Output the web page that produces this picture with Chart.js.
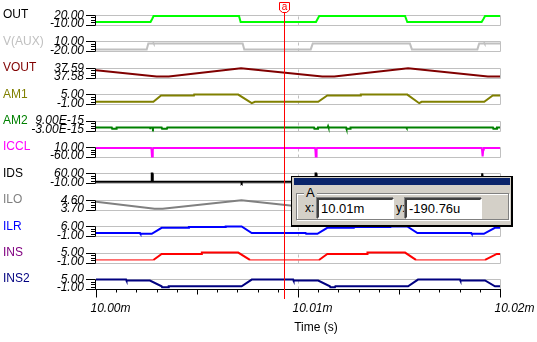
<!DOCTYPE html>
<html>
<head>
<meta charset="utf-8">
<title>Transient</title>
<script src="https://cdn.jsdelivr.net/npm/chart.js@4.4.1/dist/chart.umd.min.js"></script>
<style>
  html, body { margin: 0; padding: 0; background: #fff; }
  #wrap { position: relative; width: 537px; height: 342px; overflow: hidden; }
  #plot { position: absolute; left: 0; top: 0; }
  .dlg { position: absolute; left: 291px; top: 176px; width: 222px; height: 51px; box-sizing: border-box;
         background: #d4d0c8; border-style: solid; border-color: #000; border-width: 1px 2px 2px 1px;
         font: 13px "Liberation Sans", Arial, sans-serif; color: #000; }
  .dlg .bar { position: absolute; left: 2px; top: 1px; width: 216px; height: 7px; background: #0a246a; }
  .dlg .grp { position: absolute; left: 4px; top: 16px; width: 211px; height: 25px; border: 1px solid #808080;
              box-shadow: 1px 1px 0 #fff, inset 1px 1px 0 #fff; }
  .dlg .grp span { position: absolute; left: 7px; top: -9px; padding: 0 2px; background: #d4d0c8; line-height: 15px; }
  .dlg .lbl { position: absolute; top: 24px; line-height: 15px; font-size: 12px; }
  .dlg .box { position: absolute; top: 21px; width: 77px; height: 21px; box-sizing: border-box; background: #fff;
              border-style: solid; border-width: 2px; border-color: #404040 #fff #fff #404040;
              box-shadow: -1px -1px 0 #808080; padding-left: 2px; line-height: 17px; }
</style>
</head>
<body>
<div id="wrap">
  <canvas id="plot" width="537" height="342"></canvas>
  <div class="dlg">
    <div class="bar"></div>
    <div class="grp"><span>A</span></div>
    <div class="lbl" style="left:13px">x:</div>
    <div class="box" style="left:25px">10.01m</div>
    <div class="lbl" style="left:104px">y:</div>
    <div class="box" style="left:113px">-190.76u</div>
  </div>
</div>
<script>
// trace order, top to bottom
const traceNames  = ['OUT', 'V(AUX)', 'VOUT', 'AM1', 'AM2', 'ICCL', 'IDS', 'ILO', 'ILR', 'INS', 'INS2'];
const nameColors  = ['#000000', '#c0c0c0', '#800000', '#808000', '#008000', '#ff00ff', '#000000', '#808080', '#0000ff', '#800080', '#000080'];
const traceColors = ['#00ff00', '#c0c0c0', '#800000', '#808000', '#008000', '#ff00ff', '#000000', '#808080', '#0000ff', '#ff0000', '#000080'];
const rangeHigh   = ['20.00', '10.00', '37.59', '5.00', '9.00E-15', '10.00', '60.00', '4.60', '6.00', '5.00', '5.00'];
const rangeLow    = ['-10.00', '-20.00', '37.58', '-1.00', '-3.00E-15', '-60.00', '-10.00', '3.70', '-1.00', '-1.00', '-1.00'];
const timeLabels  = ['10.00m', '10.01m', '10.02m'];
const cursorTime  = 10.00932;

// time in ms
const outTime = [10.00000, 10.00270, 10.00278, 10.00285, 10.00708, 10.00716, 10.01089, 10.01097, 10.01105, 10.01530, 10.01541, 10.01909, 10.01918, 10.01926, 10.02000];
const outVal  = [-1, -1, 8, 17, 17, -1, -1, 8, 17, 17, -1, -1, 8, 17, 17];

const auxTime = [10.00000, 10.00251, 10.00259, 10.00282, 10.00284, 10.00286, 10.00726, 10.00734, 10.01063, 10.01073, 10.01554, 10.01564, 10.01888, 10.01897, 10.01920, 10.01922, 10.01924, 10.02000];
const auxVal  = [-14, -14, 3.5, 3.5, 5.5, 3.5, 3.5, -14, -14, 3.5, 3.5, -14, -14, 3.5, 3.5, 5.5, 3.5, 3.5];

const voutTime = [10.00000, 10.00300, 10.00360, 10.00718, 10.01120, 10.01180, 10.01545, 10.01940, 10.02000];
const voutVal  = [37.5876, 37.5813, 37.5813, 37.5896, 37.5813, 37.5813, 37.5896, 37.5813, 37.5812];

const am1Time = [10.00000, 10.00284, 10.00322, 10.00485, 10.00486, 10.00704, 10.00771, 10.00787, 10.01100, 10.01145, 10.01310, 10.01311, 10.01541, 10.01600, 10.01612, 10.01922, 10.01964, 10.02000];
const am1Val  = [0.4, 0.4, 4.2, 4.2, 4.75, 4.75, -0.4, 0.4, 0.4, 4.2, 4.2, 4.75, 4.75, -0.4, 0.4, 0.4, 4.2, 4.2];

const am2Time = [10.00000, 10.00078, 10.00080, 10.00100, 10.00102, 10.00266, 10.00268, 10.00270, 10.00280, 10.00282, 10.00284,
                 10.00325, 10.00327, 10.00351, 10.00353, 10.01079, 10.01081, 10.01097, 10.01099, 10.01147, 10.01149, 10.01151,
                 10.01238, 10.01240, 10.01258, 10.01260, 10.01535, 10.01537, 10.01539, 10.01965, 10.01967, 10.01983, 10.01985, 10.02000];
const am2Val  = [0.8e-15, 0.8e-15, -0.7e-15, -0.7e-15, 0.8e-15, 0.8e-15, -0.2e-15, 0.8e-15, 0.8e-15, -0.2e-15, 0.8e-15,
                 0.8e-15, -0.7e-15, -0.7e-15, 0.8e-15, 0.8e-15, -0.7e-15, -0.7e-15, 0.8e-15, 0.8e-15, 2.2e-15, 0.8e-15,
                 0.8e-15, -0.7e-15, -0.7e-15, 0.8e-15, 0.8e-15, -0.2e-15, 0.8e-15, 0.8e-15, -0.7e-15, -0.7e-15, 0.8e-15, 0.8e-15];

const icclTime = [10.00000, 10.00272, 10.00275, 10.00277, 10.00279, 10.00281, 10.00284, 10.01083, 10.01086, 10.01088,
                  10.01090, 10.01092, 10.01095, 10.01908, 10.01911, 10.01913, 10.01915, 10.01917, 10.01920, 10.02000];
const icclVal  = [3.4, 3.4, -8, -56, -56, -8, 3.4, 3.4, -8, -56, -56, -8, 3.4, 3.4, -8, -56, -56, -8, 3.4, 3.4];

const idsTime = [10.00000, 10.00274, 10.00276, 10.00279, 10.00281, 10.00719, 10.00721, 10.00723, 10.01085, 10.01087,
                 10.01090, 10.01092, 10.01538, 10.01540, 10.01542, 10.01910, 10.01912, 10.01915, 10.01917, 10.02000];
const idsVal  = [1, 1, 60, 60, 1, 1, -4, 1, 1, 60, 60, 1, 1, -4, 1, 1, 60, 60, 1, 1];

const iloTime = [10.00000, 10.00290, 10.00330, 10.00720, 10.01110, 10.01150, 10.01540, 10.01930, 10.01970, 10.02000];
const iloVal  = [4.42, 3.79, 3.79, 4.57, 3.79, 3.79, 4.57, 3.79, 3.79, 3.82];

const ilrTime = [10.00000, 10.00218, 10.00220, 10.00276, 10.00325, 10.00457, 10.00460, 10.00639, 10.00642, 10.00721, 10.00771, 10.01038, 10.01040,
                 10.01096, 10.01145, 10.01277, 10.01280, 10.01459, 10.01462, 10.01541, 10.01591, 10.01858, 10.01860, 10.01920, 10.01975, 10.02000];
const ilrVal  = [1.17, 1.17, 0.7, 0.7, 4.9, 4.9, 5.5, 5.5, 5.8, 5.8, 1.17, 1.17, 0.7,
                 0.7, 4.9, 4.9, 5.5, 5.5, 5.8, 5.8, 1.17, 1.17, 0.7, 0.7, 4.9, 4.9];

const insTime = [10.00000, 10.00284, 10.00325, 10.00522, 10.00524, 10.00704, 10.00762, 10.01104, 10.01145, 10.01342, 10.01344, 10.01530, 10.01584, 10.01926, 10.01984, 10.02000];
const insVal  = [0.6, 0.6, 4.2, 4.2, 5.0, 5.0, 0.6, 0.6, 4.2, 4.2, 5.0, 5.0, 0.6, 0.6, 4.2, 4.2];

const ins2Time = [10.00000, 10.00149, 10.00151, 10.00267, 10.00325, 10.00327, 10.00358, 10.00360, 10.00721, 10.00771, 10.00976, 10.00978,
                  10.01100, 10.01158, 10.01160, 10.01183, 10.01185, 10.01545, 10.01594, 10.01802, 10.01804, 10.01926, 10.01975, 10.02000];
const ins2Val  = [4.64, 4.64, 4.1, 4.1, 0.62, 0.1, 0.1, 0.62, 0.62, 4.64, 4.64, 4.1,
                  4.1, 0.62, 0.1, 0.1, 0.62, 0.62, 4.64, 4.64, 4.1, 4.1, 0.62, 0.62];

const traces = [
    [outTime, outVal], [auxTime, auxVal], [voutTime, voutVal], [am1Time, am1Val], [am2Time, am2Val], [icclTime, icclVal],
    [idsTime, idsVal], [iloTime, iloVal], [ilrTime, ilrVal], [insTime, insVal], [ins2Time, ins2Val]
];

const FONT = '"Liberation Sans", Arial, sans-serif';
Chart.defaults.font.family = FONT;

// every trace gets its own y scale over the whole plot height; the labelled
// range sits in a thin band, bands stacked at a fixed pitch
const bandPitch = 26.43;
const bandHeight = 10;
const stackHeight = (traceNames.length - 1) * bandPitch + bandHeight;

const bands = traceNames.map((_, i) => ({ lo: parseFloat(rangeLow[i]), hi: parseFloat(rangeHigh[i]) }));

const yScales = {};
bands.forEach((b, i) => {
    const upp = (b.hi - b.lo) / bandHeight;
    yScales['y' + i] = {
        type: 'linear',
        display: false,
        min: b.lo - (stackHeight - i * bandPitch - bandHeight) * upp,
        max: b.hi + i * bandPitch * upp
    };
});

const datasets = traces.map(([t, v], i) => {
    const ds = {
        label: traceNames[i],
        data: t.map((x, k) => ({ x, y: v[k] })),
        yAxisID: 'y' + i,
        borderColor: traceColors[i],
        borderWidth: 2,
        pointRadius: 0,
        tension: 0
    };
    if (traceNames[i] === 'INS') {
        // the idle level of INS is drawn thin
        ds.segment = { borderWidth: c => (c.p0.parsed.y === c.p1.parsed.y && c.p0.parsed.y < 1 ? 1 : undefined) };
    }
    return ds;
});

const crisp = v => Math.round(v) + 0.5;

const bandsPlugin = {
    id: 'bands',
    beforeDatasetsDraw(chart) {
        const { ctx, chartArea, scales } = chart;
        const xMid = crisp(scales.x.getPixelForValue(10.01));
        ctx.save();
        ctx.lineWidth = 1;
        bands.forEach((b, i) => {
            const ys = scales['y' + i];
            const top = crisp(ys.getPixelForValue(b.hi));
            const bot = crisp(ys.getPixelForValue(b.lo));
            ctx.strokeStyle = '#c0c0c0';
            ctx.setLineDash([]);
            ctx.beginPath();
            ctx.moveTo(chartArea.left, top);
            ctx.lineTo(crisp(chartArea.right), top);
            ctx.lineTo(crisp(chartArea.right), bot);
            ctx.moveTo(chartArea.left, bot);
            ctx.lineTo(crisp(chartArea.right), bot);
            ctx.stroke();
            ctx.setLineDash([3, 3]);
            ctx.beginPath();
            ctx.moveTo(xMid, top + 1);
            ctx.lineTo(xMid, bot);
            ctx.stroke();
        });
        ctx.restore();
    },
    afterDraw(chart) {
        const { ctx, chartArea, scales } = chart;
        const xs = scales.x;
        const axisX = crisp(chartArea.left - 1);
        ctx.save();
        ctx.lineWidth = 1;

        // trace names, ranges and the small per-band axes
        bands.forEach((b, i) => {
            const ys = scales['y' + i];
            const top = ys.getPixelForValue(b.hi);
            const bot = ys.getPixelForValue(b.lo);
            ctx.textBaseline = 'middle';
            ctx.textAlign = 'left';
            ctx.font = '12px ' + FONT;
            ctx.fillStyle = nameColors[i];
            ctx.fillText(traceNames[i], 3, top);
            ctx.textAlign = 'right';
            ctx.font = 'italic 12px ' + FONT;
            ctx.fillStyle = '#000';
            ctx.fillText(rangeHigh[i], 84, top + 0.5);
            ctx.fillText(rangeLow[i], 84, bot - 1);

            const t = crisp(top), bt = crisp(bot);
            ctx.strokeStyle = '#000';
            ctx.beginPath();
            ctx.moveTo(axisX, t);
            ctx.lineTo(axisX, bt);
            ctx.moveTo(86, t);
            ctx.lineTo(axisX, t);
            ctx.moveTo(86, bt);
            ctx.lineTo(axisX, bt);
            for (let k = 1; k < 4; k++) {
                const y = crisp(top + (bot - top) * k / 4);
                ctx.moveTo(91, y);
                ctx.lineTo(axisX, y);
            }
            ctx.stroke();
        });

        // time axis line, tick marks and labels
        const ay = crisp(chartArea.bottom);
        ctx.strokeStyle = '#000';
        ctx.beginPath();
        ctx.moveTo(axisX, ay);
        ctx.lineTo(crisp(chartArea.right) + 0.5, ay);
        ctx.font = 'italic 12px ' + FONT;
        ctx.textAlign = 'left';
        ctx.textBaseline = 'middle';
        ctx.fillStyle = '#000';
        xs.ticks.forEach(tk => {
            const k = Math.round((tk.value - 10) * 1000);
            const len = k % 10 === 0 ? 8 : (k % 5 === 0 ? 5 : 3);
            const x = crisp(xs.getPixelForValue(tk.value));
            ctx.moveTo(x, ay);
            ctx.lineTo(x, ay + len);
            if (k % 10 === 0) {
                ctx.fillText(timeLabels[k / 10], x - 6, 309);
            }
        });
        ctx.stroke();

        ctx.font = '12px ' + FONT;
        ctx.textAlign = 'center';
        ctx.fillText('Time (s)', 316, 328);

        // cursor "a"
        const cx = crisp(xs.getPixelForValue(cursorTime));
        ctx.strokeStyle = '#ff0000';
        ctx.beginPath();
        ctx.moveTo(cx, 12);
        ctx.lineTo(cx, 299);
        ctx.stroke();
        ctx.beginPath();
        ctx.moveTo(cx - 5, 2.5);
        ctx.lineTo(cx + 5, 2.5);
        ctx.lineTo(cx + 5, 10);
        ctx.lineTo(cx + 2, 12.5);
        ctx.lineTo(cx - 2, 12.5);
        ctx.lineTo(cx - 5, 10);
        ctx.closePath();
        ctx.fillStyle = '#fff';
        ctx.fill();
        ctx.stroke();
        ctx.fillStyle = '#ff0000';
        ctx.font = '10px ' + FONT;
        ctx.fillText('a', cx, 7);
        ctx.restore();
    }
};

new Chart(document.getElementById('plot'), {
    type: 'line',
    data: { datasets },
    options: {
        responsive: false,
        animation: false,
        events: [],
        layout: { padding: { top: 15, left: 96, right: 37, bottom: 0 } },
        plugins: { legend: { display: false }, tooltip: { enabled: false } },
        scales: {
            x: {
                type: 'linear',
                min: 10,
                max: 10.02,
                grid: { display: false },
                border: { display: false },
                ticks: { stepSize: 0.001, autoSkip: false, display: false },
                afterFit: s => {
                    s.height = 53;
                    s.paddingLeft = 0;
                    s.paddingRight = 0;
                }
            },
            ...yScales
        }
    },
    plugins: [bandsPlugin]
});
</script>
</body>
</html>
